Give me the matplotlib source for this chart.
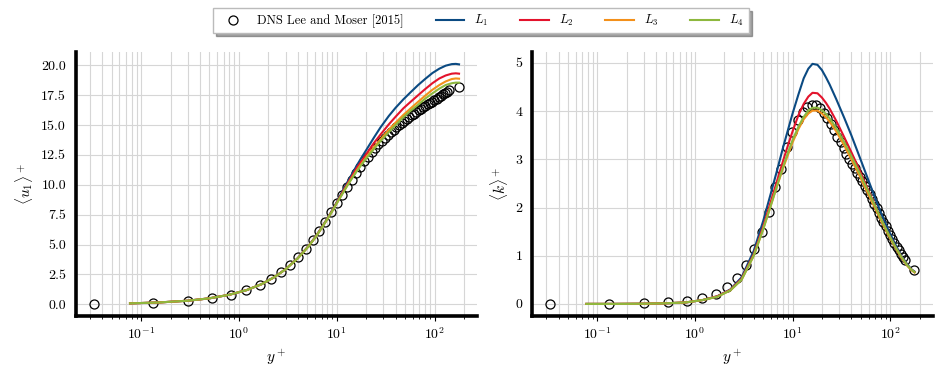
import numpy as np
import matplotlib
matplotlib.use("Agg")
import matplotlib.pyplot as plt

#computer modern look, like the latex output of the paper
plt.rcParams["font.family"] = "serif"
plt.rcParams["font.serif"] = ["cmr10"]
plt.rcParams["mathtext.fontset"] = "cm"
plt.rcParams["axes.formatter.use_mathtext"] = True
plt.rcParams["font.size"] = 10

#DNS reference, Lee and Moser (2015), Re_tau ~ 180
dns_yplus = [0.033, 0.131, 0.30, 0.525, 0.834, 1.19, 1.63, 2.15, 2.72, 3.34, 4.04, 4.85, 5.68,
             6.65, 7.6, 8.77, 9.95, 11.3, 12.7, 14.2, 15.8, 17.4, 19.1, 20.9, 22.8, 24.7, 26.7,
             28.8, 31.0, 33.3, 35.7, 38.2, 40.8, 43.4, 46.1, 48.9, 51.9, 55.0, 58.2, 61.6, 65.1,
             68.8, 72.6, 76.6, 80.8, 85.2, 89.8, 94.6, 99.6, 104.9, 110.4, 116.2, 122.3, 128.6,
             135.2, 142.0, 176.0]
dns_u = [0.033, 0.131, 0.30, 0.51, 0.80, 1.18, 1.61, 2.12, 2.68, 3.26, 3.92, 4.62, 5.35,
         6.15, 6.92, 7.72, 8.45, 9.15, 9.82, 10.42, 11.0, 11.5, 11.95, 12.35, 12.75, 13.1, 13.4,
         13.7, 13.95, 14.2, 14.42, 14.62, 14.82, 15.0, 15.17, 15.33, 15.49, 15.64, 15.8, 15.95, 16.1,
         16.22, 16.35, 16.48, 16.6, 16.72, 16.84, 16.96, 17.08, 17.2, 17.32, 17.44, 17.56, 17.68,
         17.8, 17.92, 18.22]
dns_k = [0.0, 0.0, 0.01, 0.03, 0.06, 0.12, 0.21, 0.35, 0.54, 0.81, 1.13, 1.5, 1.91,
         2.43, 2.8, 3.26, 3.57, 3.82, 3.99, 4.09, 4.13, 4.12, 4.06, 3.97, 3.85, 3.73, 3.6,
         3.47, 3.35, 3.23, 3.12, 3.01, 2.91, 2.82, 2.72, 2.63, 2.54, 2.45, 2.36, 2.27, 2.17,
         2.07, 1.98, 1.88, 1.79, 1.70, 1.61, 1.52, 1.43, 1.35, 1.27, 1.19, 1.11, 1.04,
         0.97, 0.91, 0.71]

#model results L1..L4 on the LES grid
les_yplus = [0.077, 0.15, 0.3, 0.5, 0.8, 1.2, 1.7, 2.3, 3.0, 4.0, 5.0, 6.0, 7.0, 8.0, 9.0, 10.0,
             11.5, 13.0, 14.5, 16.0, 18.0, 20.0, 22.0, 24.0, 28.0, 34.0, 40.0, 48.0, 57.0, 68.0,
             80.0, 95.0, 112.0, 130.0, 150.0, 165.0, 178.0]
u_L1 = [0.077, 0.15, 0.3, 0.5, 0.8, 1.19, 1.68, 2.27, 2.94, 3.87, 4.76, 5.6, 6.42, 7.18, 7.88, 8.55,
        9.5, 10.3, 10.98, 11.6, 12.3, 12.9, 13.45, 13.95, 14.8, 15.75, 16.45, 17.15, 17.75, 18.35,
        18.85, 19.35, 19.72, 19.97, 20.1, 20.12, 20.08]
u_L2 = [0.077, 0.15, 0.3, 0.5, 0.8, 1.19, 1.68, 2.27, 2.94, 3.86, 4.75, 5.58, 6.4, 7.15, 7.84, 8.5,
        9.4, 10.15, 10.8, 11.4, 12.0, 12.55, 13.05, 13.5, 14.2, 15.05, 15.7, 16.4, 16.95, 17.5,
        18.0, 18.5, 18.9, 19.15, 19.3, 19.33, 19.3]
u_L3 = [0.077, 0.15, 0.3, 0.5, 0.8, 1.19, 1.68, 2.27, 2.93, 3.85, 4.73, 5.56, 6.37, 7.12, 7.8, 8.45,
        9.3, 10.05, 10.65, 11.2, 11.8, 12.3, 12.75, 13.15, 13.8, 14.6, 15.2, 15.85, 16.4, 16.95,
        17.45, 17.95, 18.35, 18.65, 18.85, 18.9, 18.88]
u_L4 = [0.077, 0.15, 0.3, 0.5, 0.8, 1.19, 1.68, 2.27, 2.93, 3.85, 4.73, 5.56, 6.37, 7.12, 7.8, 8.45,
        9.28, 10.0, 10.6, 11.12, 11.7, 12.2, 12.62, 13.0, 13.65, 14.4, 15.0, 15.65, 16.2, 16.7,
        17.2, 17.65, 18.05, 18.35, 18.5, 18.55, 18.55]
k_L1 = [0.0, 0.0, 0.004, 0.012, 0.03, 0.08, 0.16, 0.3, 0.55, 1.1, 1.72, 2.3, 2.8, 3.25, 3.62, 3.95,
        4.35, 4.68, 4.88, 4.98, 4.96, 4.85, 4.7, 4.55, 4.25, 3.85, 3.5, 3.08, 2.68, 2.27,
        1.9, 1.55, 1.25, 1.0, 0.82, 0.72, 0.67]
k_L2 = [0.0, 0.0, 0.004, 0.012, 0.03, 0.08, 0.16, 0.29, 0.52, 1.03, 1.6, 2.13, 2.58, 2.97, 3.3, 3.58,
        3.92, 4.15, 4.3, 4.38, 4.37, 4.28, 4.17, 4.05, 3.8, 3.45, 3.15, 2.8, 2.45, 2.1,
        1.78, 1.47, 1.2, 0.98, 0.8, 0.71, 0.66]
k_L3 = [0.0, 0.0, 0.004, 0.012, 0.03, 0.08, 0.15, 0.28, 0.5, 1.0, 1.55, 2.05, 2.47, 2.82, 3.1, 3.35,
        3.63, 3.83, 3.95, 4.01, 4.01, 3.95, 3.87, 3.78, 3.58, 3.28, 3.0, 2.68, 2.36, 2.04,
        1.74, 1.44, 1.18, 0.96, 0.79, 0.7, 0.65]
k_L4 = [0.0, 0.0, 0.004, 0.012, 0.03, 0.08, 0.15, 0.28, 0.5, 1.0, 1.55, 2.05, 2.48, 2.85, 3.15, 3.4,
        3.68, 3.88, 4.01, 4.07, 4.07, 4.02, 3.94, 3.85, 3.65, 3.35, 3.07, 2.74, 2.42, 2.09,
        1.78, 1.47, 1.2, 0.98, 0.8, 0.71, 0.66]

case_names = [r"$L_1$", r"$L_2$", r"$L_3$", r"$L_4$"]
case_colors = ["#0b4a82", "#e3132c", "#f3901a", "#8db83e"]


#draws one profile panel: DNS circles plus the four model lines
def draw_panel(ax, dns_vals, model_vals, ylabel, yticks, yfmt):
    ax.plot(dns_yplus, dns_vals, "o", mfc="none", mec="black", mew=0.9, ms=6.5,
            label="DNS Lee and Moser [2015]")
    for vals, name, col in zip(model_vals, case_names, case_colors):
        ax.plot(les_yplus, vals, color=col, lw=1.5, label=name)
    ax.set_xscale("log")
    ax.set_yticks(yticks)
    ax.set_yticklabels([yfmt.format(t) for t in yticks])
    ax.grid(True, which="major", color="#d6d6d6", lw=0.8)
    ax.grid(True, which="minor", axis="x", color="#d6d6d6", lw=0.8)
    ax.set_axisbelow(True)
    for side in ["top", "right"]:
        ax.spines[side].set_visible(False)
    for side in ["left", "bottom"]:
        ax.spines[side].set_linewidth(2.6)
        ax.spines[side].set_color("black")
    ax.tick_params(axis="y", length=0, pad=7)
    ax.tick_params(axis="x", which="major", length=3.5, width=0.8, pad=4)
    ax.tick_params(axis="x", which="minor", length=2.0, width=0.6)
    ax.set_xlabel(r"$y^+$", fontsize=11)
    ax.set_ylabel(ylabel, fontsize=11)


fig = plt.figure(figsize=(9.47, 3.9), dpi=100)
ax_u = fig.add_axes([0.080, 0.190, 0.424, 0.677])
ax_k = fig.add_axes([0.562, 0.190, 0.423, 0.677])

draw_panel(ax_u, dns_u, [u_L1, u_L2, u_L3, u_L4], r"$\langle u_1 \rangle^+$",
           [0.0, 2.5, 5.0, 7.5, 10.0, 12.5, 15.0, 17.5, 20.0], "{:.1f}")
draw_panel(ax_k, dns_k, [k_L1, k_L2, k_L3, k_L4], r"$\langle k \rangle^+$",
           [0, 1, 2, 3, 4, 5], "{:d}")

handles, labels = ax_u.get_legend_handles_labels()
fig.legend(handles, labels, loc="upper center", bbox_to_anchor=(0.508, 0.995), ncol=5,
           fontsize=9, handlelength=2.3, columnspacing=2.55, handletextpad=0.8,
           shadow=True, fancybox=False, edgecolor="#bbbbbb", framealpha=1.0)

fig.savefig("out.png", dpi=100)
